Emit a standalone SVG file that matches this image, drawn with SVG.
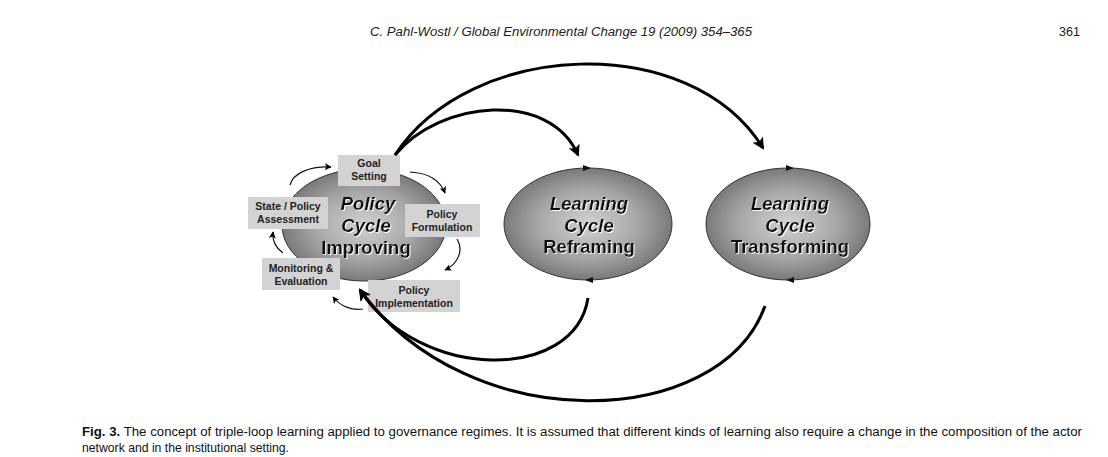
<svg xmlns="http://www.w3.org/2000/svg" width="1108" height="457" viewBox="0 0 1108 457">
<defs>
<radialGradient id="eg" cx="50%" cy="50%" r="55%">
<stop offset="0" stop-color="#d2d2d2"/>
<stop offset="0.55" stop-color="#a6a6a6"/>
<stop offset="1" stop-color="#6e6e6e"/>
</radialGradient>
<filter id="sh" x="-10%" y="-10%" width="130%" height="130%">
<feDropShadow dx="1" dy="1" stdDeviation="0.4" flood-color="#ffffff" flood-opacity="0.9"/>
</filter>
<marker id="big" viewBox="0 0 12 12" refX="10" refY="6" markerWidth="12" markerHeight="12" markerUnits="userSpaceOnUse" orient="auto">
<path d="M0,0 L12,6 L0,12 L3,6 Z" fill="#000"/>
</marker>
<marker id="sm" viewBox="0 0 10 10" refX="9" refY="5" markerWidth="7" markerHeight="7" markerUnits="userSpaceOnUse" orient="auto">
<path d="M0,0 L10,5 L0,10 L2.5,5 Z" fill="#000"/>
</marker>
<style>
.ell{fill:url(#eg);stroke:#333;stroke-width:1}
.box{fill:#d3d3d3}
.bt{font-family:"Liberation Sans",Arial,sans-serif;font-weight:bold;font-size:10.5px;fill:#222;text-anchor:middle}
.ct{font-family:"Liberation Sans",Arial,sans-serif;font-weight:bold;font-size:18.5px;fill:#111;text-anchor:middle;filter:url(#sh)}
.it{font-style:italic}
.big{fill:none;stroke:#000;stroke-width:3;marker-end:url(#big)}
.sm{fill:none;stroke:#111;stroke-width:1.2;marker-end:url(#sm)}
.hd{font-family:"Liberation Sans",Arial,sans-serif;font-size:12.5px;fill:#222}
.cap{font-family:"Liberation Sans",Arial,sans-serif;font-size:12.5px;fill:#111}
.tri{fill:#111}
</style>
</defs>
<rect width="1108" height="457" fill="#fff"/>

<text class="hd" x="370" y="36" font-style="italic" textLength="382" lengthAdjust="spacingAndGlyphs">C. Pahl-Wostl / Global Environmental Change 19 (2009) 354–365</text>
<text class="hd" x="1059" y="36" textLength="21" lengthAdjust="spacingAndGlyphs">361</text>

<g id="policy-cycle">
<ellipse class="ell" cx="364" cy="225" rx="82" ry="56"/>
<text class="ct it" x="368" y="210">Policy</text>
<text class="ct it" x="366" y="232">Cycle</text>
<text class="ct" x="366" y="254">Improving</text>
</g>

<g id="learning-reframing">
<ellipse class="ell" cx="588" cy="224" rx="84" ry="56"/>
<text class="ct it" x="589" y="210">Learning</text>
<text class="ct it" x="589" y="232">Cycle</text>
<text class="ct" x="589" y="253">Reframing</text>
<path class="tri" d="M583,165 L591,168 L583,171 Z"/>
<path class="tri" d="M593,277 L585,280 L593,283 Z"/>
</g>

<g id="learning-transforming">
<ellipse class="ell" cx="788" cy="224" rx="82" ry="56"/>
<text class="ct it" x="790" y="210">Learning</text>
<text class="ct it" x="790" y="232">Cycle</text>
<text class="ct" x="790" y="253">Transforming</text>
<path class="tri" d="M786,165 L794,168 L786,171 Z"/>
<path class="tri" d="M794,277 L786,280 L794,283 Z"/>
</g>

<g id="goal-setting">
<rect class="box" x="338" y="155" width="62" height="31"/>
<text class="bt" x="369" y="167">Goal</text>
<text class="bt" x="369" y="180">Setting</text>
</g>

<g id="state-policy-assessment">
<rect class="box" x="248" y="197" width="80" height="32"/>
<text class="bt" x="288" y="210">State / Policy</text>
<text class="bt" x="288" y="223">Assessment</text>
</g>

<g id="policy-formulation">
<rect class="box" x="405" y="204" width="75" height="33"/>
<text class="bt" x="442" y="218">Policy</text>
<text class="bt" x="442" y="231">Formulation</text>
</g>

<g id="monitoring-evaluation">
<rect class="box" x="262" y="258" width="78" height="32"/>
<text class="bt" x="301" y="272">Monitoring &amp;</text>
<text class="bt" x="301" y="285">Evaluation</text>
</g>

<g id="policy-implementation">
<rect class="box" x="368" y="280" width="92" height="32"/>
<text class="bt" x="414" y="294">Policy</text>
<text class="bt" x="414" y="307">Implementation</text>
</g>

<g id="connectors">
<path class="big" d="M395,155 C440,100 550,90 578,155"/>
<path class="big" d="M395,155 C470,40 690,30 763,148"/>
<path class="big" d="M588,298 C575,382 420,382 360,290"/>
<path class="big" d="M765,306 C720,430 470,440 360,290"/>
<path class="sm" d="M290,185 C293,173 310,166 331,167"/>
<path class="sm" d="M410,172 C428,173 440,180 445,193"/>
<path class="sm" d="M457,239 C464,250 458,264 445,270"/>
<path class="sm" d="M363,309 C352,311 340,306 333,297"/>
<path class="sm" d="M283,253 C276,248 272,241 273,232"/>
</g>

<text class="cap" x="82" y="436" textLength="1000" lengthAdjust="spacingAndGlyphs"><tspan font-weight="bold">Fig. 3.</tspan> The concept of triple-loop learning applied to governance regimes. It is assumed that different kinds of learning also require a change in the composition of the actor</text>
<text class="cap" x="82" y="452" textLength="207" lengthAdjust="spacingAndGlyphs">network and in the institutional setting.</text>
</svg>
